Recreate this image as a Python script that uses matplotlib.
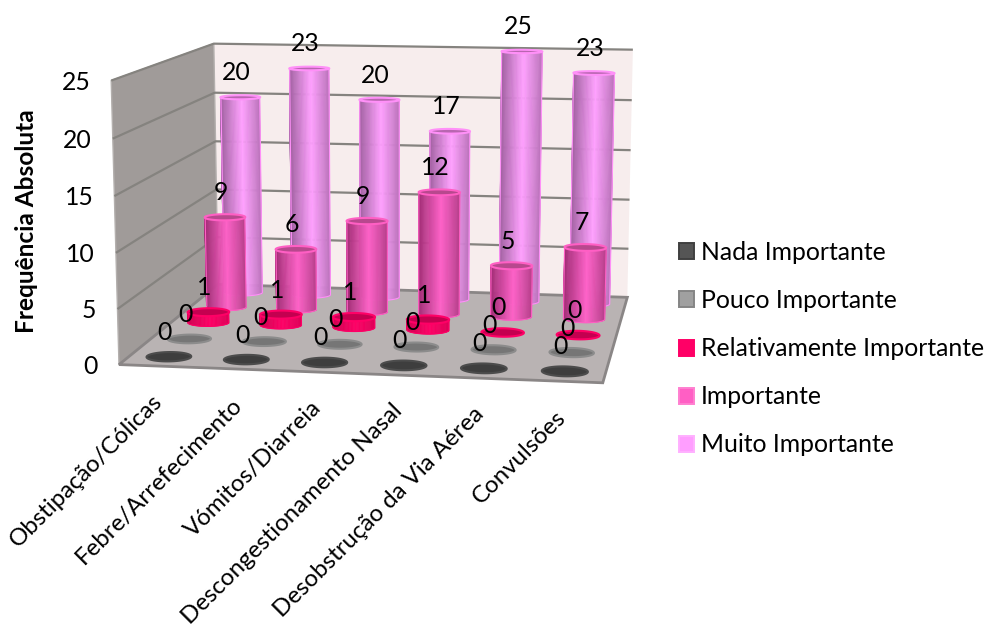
#!/usr/bin/env python3
"""3D cylinder chart of perceived importance per symptom, drawn on plain 2D axes.

A small pinhole camera (fitted to the box corners) maps (category, series, value)
to figure pixels; cylinders are shaded as thin vertical strips.
"""
import matplotlib
matplotlib.use("Agg")
import matplotlib.pyplot as plt
import numpy as np
from matplotlib.collections import PolyCollection
from matplotlib.colors import to_rgb
from matplotlib.patches import Polygon, Rectangle

plt.rcParams["font.family"] = ["Lato", "DejaVu Sans"]

CATEGORIES = ["Obstipação/Cólicas", "Febre/Arrefecimento", "Vómitos/Diarreia",
              "Descongestionamento Nasal", "Desobstrução da Via Aérea", "Convulsões"]
SERIES = ["Nada Importante", "Pouco Importante", "Relativamente Importante",
          "Importante", "Muito Importante"]
NADA = [0, 0, 0, 0, 0, 0]
POUCO = [0, 0, 0, 0, 0, 0]
RELATIVAMENTE = [1, 1, 1, 1, 0, 0]
IMPORTANTE = [9, 6, 9, 12, 5, 7]
MUITO = [20, 23, 20, 17, 25, 23]
Y_TICKS = [0, 5, 10, 15, 20, 25]
Y_MAX = 25

W, H = 987, 632
FS = 17.8

# box corners as (across, depth, height) -> pixel, used to fit the camera
BOX_3D = [(0, 0, 0), (1, 0, 0), (1, 1, 0), (0, 1, 0), (0, 1, 1), (1, 1, 1), (0, 0, 1)]
BOX_PX = [(118, 363), (603, 384), (627, 296), (219, 286), (213, 43), (633, 50), (112, 81)]

R_U, R_V = 0.047, 0.050     # cylinder radius in box units

# (left edge, bright band, right edge, cap, rim) for each series
STYLE = [
    dict(stops=["#3c3c3c", "#3c3c3c", "#3c3c3c"], cap="#3e3e3e", rim="#4c4c4c"),
    dict(stops=["#7c7c7c", "#7c7c7c", "#7c7c7c"], cap="#767676", rim="#8c8c8c"),
    dict(stops=["#d00050", "#ff0066", "#e00058"], cap="#c40050", rim="#ff0066"),
    dict(stops=["#a02c74", "#ff62c8", "#b8408c"], cap="#b8488e", rim="#ff5fc4"),
    dict(stops=["#a060a0", "#ffa0ff", "#bc74bc"], cap="#b866b0", rim="#ff90f8"),
]
LEGEND_SWATCH = ["#555555", "#a0a0a0", "#ff0066", "#ff5fc4", "#ff9eff"]
LEGEND_EDGE = ["#404040", "#858585", "#ff0066", "#ff7fd0", "#ffb0ff"]


def fit_camera(pts3, pts2):
    rows = []
    for (u, v, w), (x, y) in zip(pts3, pts2):
        rows.append([u, v, w, 1, 0, 0, 0, 0, -x * u, -x * v, -x * w, -x])
        rows.append([0, 0, 0, 0, u, v, w, 1, -y * u, -y * v, -y * w, -y])
    return np.linalg.svd(np.array(rows, float))[2][-1].reshape(3, 4)


CAM = fit_camera(BOX_3D, BOX_PX)


def project(u, v, val):
    """Category/series box coordinates plus a value -> pixel arrays."""
    u, v, val = np.broadcast_arrays(u, v, val)
    p = CAM @ np.vstack([u.ravel(), v.ravel(), val.ravel() / Y_MAX, np.ones(u.size)])
    return p[0] / p[2], p[1] / p[2]


def shade(stops, t):
    rgb = np.array([to_rgb(c) for c in stops])
    return [tuple(np.interp(x, [0, 0.55, 1], rgb[:, k]) for k in range(3)) for x in t]


def draw_box(ax):
    floor = np.column_stack(project([0, 1, 1, 0], [0, 0, 1, 1], 0))
    left = np.column_stack(project([0, 0, 0, 0], [0, 1, 1, 0], [0, 0, Y_MAX, Y_MAX]))
    back = np.column_stack(project([0, 1, 1, 0], [1, 1, 1, 1], [0, 0, Y_MAX, Y_MAX]))
    ax.add_patch(Polygon(back, fc="#f7eded", ec="none", zorder=1))
    ax.add_patch(Polygon(left, fc="#a09b99", ec="#b4b0ae", lw=1.0, zorder=1))
    for tick in Y_TICKS[1:]:
        x, y = project([0, 0, 1], [0, 1, 1], tick)
        ax.plot(x, y, color="#85837f", lw=1.6, zorder=2, solid_capstyle="butt")
    ax.add_patch(Polygon(floor, fc="#b9b3b3", ec="#8a8686", lw=2.0, zorder=3))


def draw_cylinder(ax, uc, vc, value, style, zorder):
    th = np.linspace(0, 2 * np.pi, 73)
    ru, rv = R_U * np.cos(th), R_V * np.sin(th)
    if value > 0:
        # body: front half of the circle, left to right, one strip per step
        front = np.linspace(np.pi, 2 * np.pi, 49)
        bu, bv = uc + R_U * np.cos(front), vc + R_V * np.sin(front)
        xb, yb = project(bu, bv, 0)
        xt, yt = project(bu, bv, value)
        polys = [[(xb[i], yb[i]), (xb[i + 1], yb[i + 1]), (xt[i + 1], yt[i + 1]), (xt[i], yt[i])]
                 for i in range(len(front) - 1)]
        t = (xb[:-1] + xb[1:] - 2 * xb.min()) / (2 * (xb.max() - xb.min()))
        cols = shade(style["stops"], t)
        ax.add_collection(PolyCollection(polys, facecolors=cols, edgecolors=cols, lw=0.4, zorder=zorder))
        # thin bright outline down the sides and around the foot
        ox = np.concatenate([[xt[0]], xb, [xt[-1]]])
        oy = np.concatenate([[yt[0]], yb, [yt[-1]]])
        ax.plot(ox, oy, color=style["rim"], lw=0.8, zorder=zorder + 0.05)
    x, y = project(uc + ru, vc + rv, value)
    ax.add_patch(Polygon(np.column_stack([x, y]), fc=style["cap"], ec=style["rim"], lw=1.5, zorder=zorder + 0.1))


def main():
    fig = plt.figure(figsize=(W / 100, H / 100), dpi=100)
    ax = fig.add_axes([0, 0, 1, 1])
    ax.set_xlim(0, W)
    ax.set_ylim(H, 0)
    ax.axis("off")

    draw_box(ax)

    table = [NADA, POUCO, RELATIVAMENTE, IMPORTANTE, MUITO]
    n_cat, n_ser = len(CATEGORIES), len(SERIES)
    # back row first so nearer cylinders cover the ones behind them
    for s in range(n_ser - 1, -1, -1):
        vc = (s + 0.5) / n_ser
        for c in range(n_cat):
            uc = (c + 0.5) / n_cat
            draw_cylinder(ax, uc, vc, table[s][c], STYLE[s], zorder=10 + (n_ser - s))
            x, y = project(uc, vc, table[s][c])
            ax.text(x[0] - 4, y[0] - 24.5, str(table[s][c]), fontsize=FS, color="black",
                    ha="center", va="center", zorder=40)

    for tick in Y_TICKS:
        x, y = project(0, 0, tick)
        ax.text(x[0] - 21, y[0] + 1.5, str(tick), fontsize=FS, ha="right", va="center")

    ax.text(27, 221, "Frequência Absoluta", fontsize=17.6, fontweight="bold",
            rotation=90, ha="center", va="center")

    for c, name in enumerate(CATEGORIES):
        x, y = project((c + 0.5) / n_cat, 0, 0)
        ax.text(x[0] - 6, y[0] + 25, name, fontsize=17.3, rotation=45, rotation_mode="anchor",
                ha="right", va="top")

    for k, name in enumerate(SERIES):
        yc = 251 + k * 48.25
        ax.add_patch(Rectangle((678.5, yc - 8), 15.5, 16, fc=LEGEND_SWATCH[k],
                               ec=LEGEND_EDGE[k], lw=1.4))
        ax.text(701, yc + 1, name, fontsize=FS, ha="left", va="center")

    fig.savefig("out.png", dpi=100)


if __name__ == "__main__":
    main()
